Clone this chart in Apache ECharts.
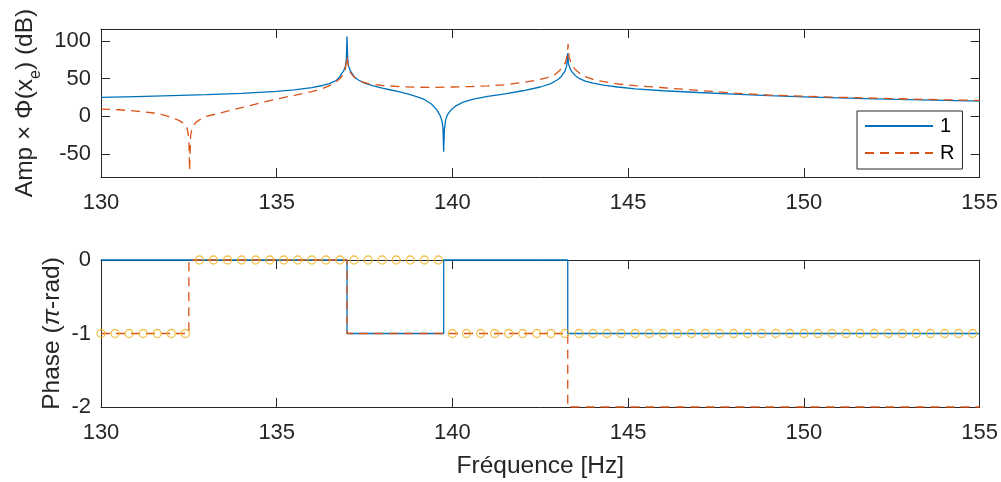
<!DOCTYPE html>
<html><head><meta charset="utf-8">
<script src="https://cdn.jsdelivr.net/npm/echarts@6/dist/echarts.min.js"></script>
<style>html,body{margin:0;padding:0;background:#fff}#c{width:1001px;height:482px}</style>
</head><body><div id="c"></div>
<script>
// ---- Amplitude (dB), series "1"
const ampFreq1 = [130,131,132,133,134,135,135.5,136,136.3,136.5,136.7,136.8,136.85,136.9,136.95,136.98,137.0,137.02,137.05,137.1,137.2,137.3,137.5,137.75,138.0,138.25,138.5,138.75,139.0,139.2,139.4,139.55,139.65,139.7,139.73,139.75,139.77,139.8,139.85,139.95,140.1,140.3,140.6,141.0,141.5,142.0,142.5,142.8,143.0,143.1,143.2,143.25,143.28,143.3,143.35,143.4,143.5,143.6,143.8,144.0,144.3,144.7,145.2,146,147,148,149,150,151,152,153,154,155];
const amp1 =     [25.2,26.3,27.5,28.8,30.5,33.3,35.2,38.3,41,43.5,48,53,57,60,66,75,106,75,66,60,53,49,44,40.5,37.5,35,32.5,29.5,26,22.5,16.5,9,1,-6,-15,-47,-18,-6,1.5,8,14,19,23,26.5,30,34,39,43.5,49,53,60,67,84,70,63,59,54,50.5,46.5,44,41.5,39,36.5,34,31.7,29.5,27.5,26,24.5,23.3,22.3,21.3,20.3];
// ---- Amplitude (dB), series "R"
const ampFreqR = [130,130.5,131,131.5,131.8,132.0,132.2,132.35,132.45,132.5,132.52,132.55,132.6,132.7,132.85,133.0,133.3,133.6,134.0,134.5,135.0,135.5,136.0,136.3,136.6,136.8,136.9,136.95,137.0,137.05,137.1,137.2,137.4,137.6,138.0,138.5,139.0,139.5,140.0,140.5,141.0,141.5,142.0,142.4,142.7,142.9,143.05,143.15,143.22,143.27,143.29,143.32,143.4,143.5,143.7,144.0,144.3,144.7,145.2,146,147,148,149,150,151,152,153,154,155];
const ampR =     [9.7,8.8,7,4.5,1.5,-1.5,-5,-9,-15,-30,-72,-25,-14,-8,-3,0,3.5,7,11.5,17.5,23,28,33,37,43,50,56,62,80,62,58,52,46.5,43.5,41,39.5,38.7,38.5,39,39.5,40.5,42,45,48,51.5,55,61,66,72,83,96,78,68,62,54,49,46,43,40.8,38,34.5,31,28.3,26.8,25.3,24.2,23,22,21.2];
// ---- Phase (pi-rad)
const phaseFreq1 = [130,137,137,139.75,139.75,143.28,143.28,155];
const phase1 =     [0,0,-1,-1,0,0,-1,-1];
const phaseFreqR = [130,132.5,132.5,137,137,143.28,143.28,155];
const phaseR =     [-1,-1,0,0,-1,-1,-2,-2];
const markerFreq = [130.0,130.4,130.8,131.2,131.6,132.0,132.4,132.8,133.2,133.6,134.0,134.4,134.8,135.2,135.6,136.0,136.4,136.8,137.2,137.6,138.0,138.4,138.8,139.2,139.6,140.0,140.4,140.8,141.2,141.6,142.0,142.4,142.8,143.2,143.6,144.0,144.4,144.8,145.2,145.6,146.0,146.4,146.8,147.2,147.6,148.0,148.4,148.8,149.2,149.6,150.0,150.4,150.8,151.2,151.6,152.0,152.4,152.8,153.2,153.6,154.0,154.4,154.8];
const markerPhase = [-1,-1,-1,-1,-1,-1,-1,0,0,0,0,0,0,0,0,0,0,0,0,0,0,0,0,0,0,-1,-1,-1,-1,-1,-1,-1,-1,-1,-1,-1,-1,-1,-1,-1,-1,-1,-1,-1,-1,-1,-1,-1,-1,-1,-1,-1,-1,-1,-1,-1,-1,-1,-1,-1,-1,-1,-1];
// ---- Ticks
const xTicks = [130,135,140,145,150,155];
const ampTicks = [-50,0,50,100];
const phaseTicks = [-2,-1,0];

const pair = (xs, ys) => xs.map((x, i) => [x, ys[i]]);
const FONT = "'Liberation Sans', Arial, Helvetica, sans-serif";
const AX = '#262626';
const BLUE = '#0072BD', ORANGE = '#D95319', YELLOW = '#EDB120';
const TICKFS = 22, NAMEFS = 24.5;

function xAx(grid, pos, labels, name) {
  return {
    type: 'value', gridIndex: grid, position: pos, min: 130, max: 155,
    axisLine: {show: true, onZero: false, lineStyle: {color: AX, width: 1}},
    axisTick: {show: true, inside: true, length: 9, customValues: xTicks, lineStyle: {color: AX}},
    axisLabel: {show: labels, customValues: xTicks, margin: 15, color: AX, fontSize: TICKFS, fontFamily: FONT},
    splitLine: {show: false},
    name: name || '', nameLocation: 'middle', nameGap: 47,
    nameTextStyle: {color: AX, fontSize: NAMEFS, fontFamily: FONT}
  };
}
function yAx(grid, pos, labels, min, max, ticks, name, rich, gap, noMove) {
  const ax = {
    type: 'value', gridIndex: grid, position: pos, min: min, max: max,
    axisLine: {show: true, onZero: false, lineStyle: {color: AX, width: 1}},
    axisTick: {show: true, inside: true, length: 9, customValues: ticks, lineStyle: {color: AX}},
    axisLabel: {show: labels, customValues: ticks, margin: 10, color: AX, fontSize: TICKFS, fontFamily: FONT},
    splitLine: {show: false},
    name: name || '', nameLocation: 'middle', nameRotate: 90, nameGap: gap || 40,
    nameTextStyle: {color: AX, fontSize: NAMEFS, fontFamily: FONT, rich: rich}
  };
  if (noMove) ax.nameMoveOverlap = false;
  return ax;
}

const chart = echarts.init(document.getElementById('c'), null, {renderer: 'canvas'});
chart.setOption({
  animation: false,
  backgroundColor: '#fff',
  grid: [
    {left: 101, right: 21, top: 29, height: 148},
    {left: 101, right: 21, top: 260, height: 147}
  ],
  legend: {
    show: true, data: ['1', 'R'], orient: 'vertical', left: 857, top: 111,
    padding: [5, 8, 6, 7], itemWidth: 68, itemHeight: 14, itemGap: 7,
    borderColor: AX, borderWidth: 1, backgroundColor: '#fff',
    itemStyle: {opacity: 0},
    textStyle: {color: '#000', fontSize: 20, fontFamily: FONT, padding: [0, 0, 0, 2]}
  },
  xAxis: [
    xAx(0, 'bottom', true),
    xAx(0, 'top', false),
    xAx(1, 'bottom', true, 'Fréquence [Hz]'),
    xAx(1, 'top', false)
  ],
  yAxis: [
    yAx(0, 'left', true, -80.5, 116, ampTicks, '{a|Amp × Φ(x}{s|e}{a|) (dB)}', {
      a: {fontSize: NAMEFS, fontFamily: FONT, color: AX, lineHeight: 31, verticalAlign: 'top'},
      s: {fontSize: 16, fontFamily: FONT, color: AX, lineHeight: 16, verticalAlign: 'bottom'}
    }, 57),
    yAx(0, 'right', false, -80.5, 116, ampTicks),
    yAx(1, 'left', true, -2, 0, phaseTicks, '{a|Phase (}{p|π}{a|-rad)}', {
      a: {fontSize: NAMEFS, fontFamily: FONT, color: AX},
      p: {fontSize: NAMEFS, fontFamily: FONT, color: AX, fontStyle: 'italic'}
    }, 36, true),
    yAx(1, 'right', false, -2, 0, phaseTicks)
  ],
  series: [
    {name: '1', type: 'line', xAxisIndex: 0, yAxisIndex: 0, data: pair(ampFreq1, amp1),
     symbol: 'none', showSymbol: false, lineStyle: {color: BLUE, width: 1.3}, itemStyle: {color: BLUE}, z: 2},
    {name: 'R', type: 'line', xAxisIndex: 0, yAxisIndex: 0, data: pair(ampFreqR, ampR),
     symbol: 'none', showSymbol: false, lineStyle: {color: ORANGE, width: 1.3, type: [9, 6]}, itemStyle: {color: ORANGE}, z: 3},
    {name: 'phase1', type: 'line', xAxisIndex: 2, yAxisIndex: 2, data: pair(phaseFreq1, phase1), clip: false,
     symbol: 'none', showSymbol: false, lineStyle: {color: BLUE, width: 1.3}, z: 2},
    {name: 'phaseR', type: 'line', xAxisIndex: 2, yAxisIndex: 2, data: pair(phaseFreqR, phaseR), clip: false,
     symbol: 'none', showSymbol: false, lineStyle: {color: ORANGE, width: 1.3, type: [9, 6]}, z: 3},
    {name: 'phaseY', type: 'scatter', xAxisIndex: 2, yAxisIndex: 2, data: pair(markerFreq, markerPhase), clip: false,
     symbol: 'circle', symbolSize: 8, itemStyle: {color: 'rgba(0,0,0,0)', borderColor: YELLOW, borderWidth: 1.3}, z: 4}
  ]
});
</script>
</body></html>
